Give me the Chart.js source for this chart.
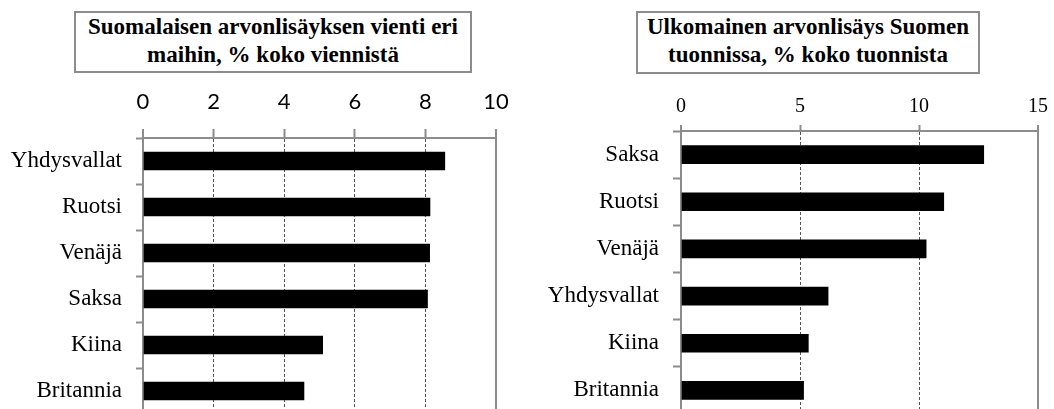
<!DOCTYPE html>
<html>
<head>
<meta charset="utf-8">
<script src="https://cdn.jsdelivr.net/npm/chart.js@4/dist/chart.umd.min.js"></script>
<style>
  html, body { margin: 0; padding: 0; background: #fff; overflow: hidden; }
  body { width: 1054px; height: 409px; position: relative; }
  .wrap { position: absolute; top: 0; height: 414px; width: 527px; }
  .title {
    position: absolute; box-sizing: border-box;
    border: 2px solid #8c8c8c; background: #fff;
    font: bold 23px 'Liberation Serif', 'Times New Roman', serif;
    line-height: 28px; text-align: center; color: #000;
  }
</style>
</head>
<body>
<div class="wrap" style="left:0"><canvas id="exportChart"></canvas></div>
<div class="wrap" style="left:527px"><canvas id="importChart"></canvas></div>
<div class="title" style="left:74px; top:11px; width:398px; height:62px">Suomalaisen arvonlisäyksen vienti eri<br>maihin, % koko viennistä</div>
<div class="title" style="left:636px; top:11px; width:344px; height:63px">Ulkomainen arvonlisäys Suomen<br>tuonnissa, % koko tuonnista</div>
<script>
// Suomalaisen arvonlisäyksen vienti, % koko viennistä
const exportCountries = ['Yhdysvallat', 'Ruotsi', 'Venäjä', 'Saksa', 'Kiina', 'Britannia']
const exportShare = [8.55, 8.13, 8.12, 8.06, 5.09, 4.56]
const exportTicks = [0, 2, 4, 6, 8, 10]

// Ulkomainen arvonlisäys Suomen tuonnissa, % koko tuonnista
const importCountries = ['Saksa', 'Ruotsi', 'Venäjä', 'Yhdysvallat', 'Kiina', 'Britannia']
const importShare = [12.72, 11.04, 10.3, 6.18, 5.35, 5.15]
const importTicks = [0, 5, 10, 15]

const AXIS_GREY = '#8c8c8c'
const GRID_DARK = '#555'

function makeChart(canvasId, labels, values, ticks, layout) {
  const max = ticks[ticks.length - 1]
  const isEdge = ctx => ctx.tick && (ctx.tick.value === max || ctx.tick.value === ticks[0])
  const dash = ctx => (ctx.type === 'tick' && !isEdge(ctx)) ? [3, 2] : []

  return new Chart(document.getElementById(canvasId), {
    type: 'bar',
    data: {
      labels,
      datasets: [{
        data: values,
        backgroundColor: '#000',
        borderWidth: 0,
        barThickness: 18,
      }],
    },
    options: {
      indexAxis: 'y',
      responsive: true,
      maintainAspectRatio: false,
      animation: false,
      layout: { padding: { left: 0, right: layout.right, top: 0, bottom: 0 } },
      plugins: {
        legend: { display: false },
        tooltip: { enabled: false },
      },
      scales: {
        x: {
          position: 'top',
          min: ticks[0],
          max,
          afterBuildTicks: scale => { scale.ticks = ticks.map(v => ({ value: v })) },
          afterFit: scale => { scale.height = layout.top },
          grid: {
            color: ctx => isEdge(ctx) ? AXIS_GREY : GRID_DARK,
            lineWidth: ctx => isEdge(ctx) ? 2 : 1,
            borderDash: dash,
            tickColor: AXIS_GREY,
            tickWidth: 2,
            tickLength: layout.xTick,
          },
          border: { color: AXIS_GREY, width: 2, dash },
          ticks: {
            color: '#000',
            font: layout.xFont,
            padding: layout.xPad,
            maxRotation: 0,
          },
        },
        y: {
          afterFit: scale => {
            scale.width = layout.left
            // plot runs past the bottom edge in the original, no label padding
            scale.paddingTop = 0
            scale.paddingBottom = 0
          },
          grid: {
            drawOnChartArea: false,
            offset: true,
            tickColor: AXIS_GREY,
            tickWidth: 2,
            tickLength: layout.yTick,
          },
          border: { color: AXIS_GREY, width: 2 },
          ticks: {
            color: '#000',
            font: { family: "'Liberation Serif', 'Times New Roman', serif", size: 23 },
            padding: 14,
          },
        },
      },
    },
  })
}

makeChart('exportChart', exportCountries, exportShare, exportTicks, {
  left: 143, right: 31, top: 138, xTick: 9, yTick: 7, xPad: 14,
  xFont: { family: "Lato, 'Open Sans', sans-serif", size: 22 },
})

makeChart('importChart', importCountries, importShare, importTicks, {
  left: 154, right: 13, top: 131, xTick: 6, yTick: 8, xPad: 6,
  xFont: { family: "'Liberation Serif', 'Times New Roman', serif", size: 20 },
})
</script>
</body>
</html>
